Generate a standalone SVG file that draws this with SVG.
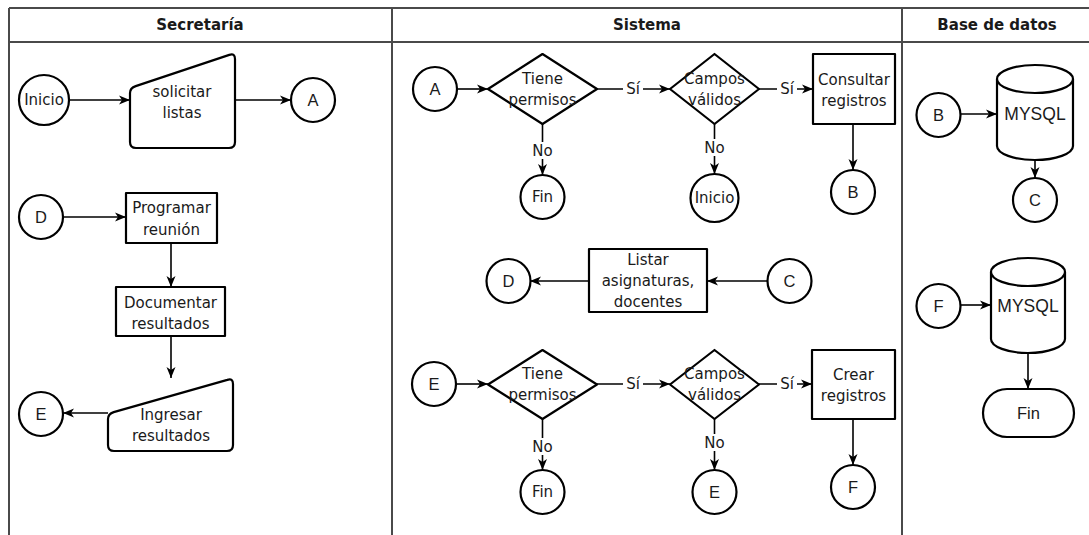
<svg xmlns="http://www.w3.org/2000/svg" width="1089" height="535" viewBox="0 0 1089 535">
<style>
.lane{stroke:#4a4a4a;stroke-width:2;fill:none}
.s{fill:#fff;stroke:#000;stroke-width:2.2;stroke-linejoin:round}
.e{stroke:#000;stroke-width:1.6;fill:none}
.t{font-family:"DejaVu Sans",sans-serif;font-size:15px;fill:#1a1a1a;text-anchor:middle}
.a{font-family:"Liberation Sans",Arial,sans-serif;font-size:16.5px;fill:#1a1a1a;text-anchor:middle}
.m{font-family:"Liberation Sans",Arial,sans-serif;font-size:17.5px;fill:#1a1a1a;text-anchor:middle}
.h{font-family:"DejaVu Sans",sans-serif;font-size:15px;font-weight:bold;fill:#1a1a1a;text-anchor:middle}
.bg{fill:#fff}
</style>
<defs>
<marker id="arr" markerWidth="11" markerHeight="11" refX="11" refY="5.5" orient="auto" markerUnits="userSpaceOnUse">
<path d="M0,1 L11,5.5 L0,10 L3,5.5 Z" fill="#000"/>
</marker>
</defs>
<g id="lanes">
<path class="lane" d="M9,8 H1089 M9,42 H1089 M9,8 V535 M392,8 V535 M902,8 V535"/>
<text class="h" x="200" y="30">Secretaría</text>
<text class="h" x="647" y="30">Sistema</text>
<text class="h" x="997" y="30">Base de datos</text>
</g>
<g id="connectors">
<path class="e" marker-end="url(#arr)" d="M69,100 H130"/>
<path class="e" marker-end="url(#arr)" d="M235,100 H291"/>
<path class="e" marker-end="url(#arr)" d="M63,217 H126"/>
<path class="e" marker-end="url(#arr)" d="M171,243 V287"/>
<path class="e" marker-end="url(#arr)" d="M171,336 V378"/>
<path class="e" marker-end="url(#arr)" d="M108,413 H63"/>
<path class="e" marker-end="url(#arr)" d="M457,89 H488"/>
<path class="e" marker-end="url(#arr)" d="M597,89 H670"/>
<path class="e" marker-end="url(#arr)" d="M759,89 H813"/>
<path class="e" marker-end="url(#arr)" d="M542.5,124 V175"/>
<path class="e" marker-end="url(#arr)" d="M714.5,124 V174"/>
<path class="e" marker-end="url(#arr)" d="M853,124 V170"/>
<path class="e" marker-end="url(#arr)" d="M767,281 H707"/>
<path class="e" marker-end="url(#arr)" d="M589,281 H530"/>
<path class="e" marker-end="url(#arr)" d="M456,384 H488"/>
<path class="e" marker-end="url(#arr)" d="M597,384 H670"/>
<path class="e" marker-end="url(#arr)" d="M759,384 H812"/>
<path class="e" marker-end="url(#arr)" d="M542.5,419 V470"/>
<path class="e" marker-end="url(#arr)" d="M714.5,419 V470"/>
<path class="e" marker-end="url(#arr)" d="M853,419 V465"/>
<path class="e" marker-end="url(#arr)" d="M961,114 H997"/>
<path class="e" marker-end="url(#arr)" d="M1035,160 V178"/>
<path class="e" marker-end="url(#arr)" d="M960,305 H991"/>
<path class="e" marker-end="url(#arr)" d="M1028,353 V389"/>
<rect class="bg" x="623" y="81" width="20" height="17"/><text class="t" x="633" y="94">Sí</text>
<rect class="bg" x="777" y="81" width="20" height="17"/><text class="t" x="787" y="94">Sí</text>
<rect class="bg" x="531" y="142" width="23" height="17"/><text class="t" x="542.5" y="156">No</text>
<rect class="bg" x="703" y="139" width="23" height="17"/><text class="t" x="714.5" y="153">No</text>
<rect class="bg" x="623" y="376" width="20" height="17"/><text class="t" x="633" y="389">Sí</text>
<rect class="bg" x="777" y="376" width="20" height="17"/><text class="t" x="787" y="389">Sí</text>
<rect class="bg" x="531" y="438" width="23" height="17"/><text class="t" x="542.5" y="452">No</text>
<rect class="bg" x="703" y="434" width="23" height="17"/><text class="t" x="714.5" y="448">No</text>
</g>
<g id="inicio1"><circle class="s" cx="44" cy="100" r="25"/><text class="t" x="44" y="105">Inicio</text></g>
<g id="solicitar"><path class="s" d="M130,93 Q130,88 135.7,86.1 L229.3,54.9 Q235,53 235,59 L235,142 Q235,148 229,148 L136,148 Q130,148 130,142 Z"/><text class="t" x="182" y="97">solicitar</text><text class="t" x="182" y="118">listas</text></g>
<g id="a1"><circle class="s" cx="313" cy="100" r="22"/><text class="a" x="313" y="106">A</text></g>
<g id="d1"><circle class="s" cx="41" cy="217" r="22"/><text class="a" x="41" y="223">D</text></g>
<g id="programar"><rect class="s" x="126" y="193" width="91" height="50"/><text class="t" x="171.5" y="213">Programar</text><text class="t" x="171.5" y="235">reunión</text></g>
<g id="documentar"><rect class="s" x="116" y="287" width="109" height="49"/><text class="t" x="170.5" y="308">Documentar</text><text class="t" x="170.5" y="329">resultados</text></g>
<g id="ingresar"><path class="s" d="M108,419 Q108,414 113.7,412.1 L227.3,379.9 Q233,378 233,384 L233,445 Q233,451 227,451 L114,451 Q108,451 108,445 Z"/><text class="t" x="171" y="420">Ingresar</text><text class="t" x="171" y="441">resultados</text></g>
<g id="e1"><circle class="s" cx="41" cy="414" r="22"/><text class="a" x="41" y="420">E</text></g>
<g id="a2"><circle class="s" cx="435" cy="89" r="22"/><text class="a" x="435" y="95">A</text></g>
<g id="permisos1"><path class="s" d="M488,89 L542.5,54 L597,89 L542.5,124 Z"/><text class="t" x="542.5" y="84">Tiene</text><text class="t" x="542.5" y="105">permisos</text></g>
<g id="campos1"><path class="s" d="M670,89 L714.5,54 L759,89 L714.5,124 Z"/><text class="t" x="714.5" y="84">Campos</text><text class="t" x="714.5" y="105">válidos</text></g>
<g id="consultar"><rect class="s" x="813" y="54" width="82" height="70"/><text class="t" x="854" y="85">Consultar</text><text class="t" x="854" y="106">registros</text></g>
<g id="fin1"><circle class="s" cx="542.5" cy="197" r="22"/><text class="t" x="542.5" y="202">Fin</text></g>
<g id="inicio2"><circle class="s" cx="714.5" cy="198" r="24"/><text class="t" x="714.5" y="203">Inicio</text></g>
<g id="b1"><circle class="s" cx="853" cy="192" r="22"/><text class="a" x="853" y="198">B</text></g>
<g id="d2"><circle class="s" cx="508.5" cy="281" r="22"/><text class="a" x="508.5" y="287">D</text></g>
<g id="listar"><rect class="s" x="589" y="249" width="118" height="63"/><text class="t" x="648" y="265">Listar</text><text class="t" x="648" y="286">asignaturas,</text><text class="t" x="648" y="307">docentes</text></g>
<g id="c1"><circle class="s" cx="789.5" cy="281" r="22"/><text class="a" x="789.5" y="287">C</text></g>
<g id="e2"><circle class="s" cx="434" cy="384" r="22"/><text class="a" x="434" y="390">E</text></g>
<g id="permisos2"><path class="s" d="M488,384.5 L542.5,350 L597,384.5 L542.5,419 Z"/><text class="t" x="542.5" y="379">Tiene</text><text class="t" x="542.5" y="400">permisos</text></g>
<g id="campos2"><path class="s" d="M670,384.5 L714.5,350 L759,384.5 L714.5,419 Z"/><text class="t" x="714.5" y="379">Campos</text><text class="t" x="714.5" y="400">válidos</text></g>
<g id="crear"><rect class="s" x="812" y="350" width="83" height="69"/><text class="t" x="853.5" y="380">Crear</text><text class="t" x="853.5" y="401">registros</text></g>
<g id="fin2"><circle class="s" cx="542.5" cy="492" r="22"/><text class="t" x="542.5" y="497">Fin</text></g>
<g id="e3"><circle class="s" cx="714.5" cy="492" r="22"/><text class="a" x="714.5" y="498">E</text></g>
<g id="f1"><circle class="s" cx="853" cy="487" r="22"/><text class="a" x="853" y="493">F</text></g>
<g id="b2"><circle class="s" cx="938.5" cy="115" r="22"/><text class="a" x="938.5" y="121">B</text></g>
<g id="mysql1"><path class="s" d="M997,79 A38,14 0 0 1 1073,79 L1073,146 A38,14 0 0 1 997,146 Z"/><path class="s" fill="none" d="M997,79 A38,14 0 0 0 1073,79"/><text class="m" x="1035" y="120">MYSQL</text></g>
<g id="c2"><circle class="s" cx="1035" cy="200" r="22"/><text class="a" x="1035" y="206">C</text></g>
<g id="f2"><circle class="s" cx="938.5" cy="306" r="22"/><text class="a" x="938.5" y="312">F</text></g>
<g id="mysql2"><path class="s" d="M991,272 A37,14 0 0 1 1065,272 L1065,339 A37,14 0 0 1 991,339 Z"/><path class="s" fill="none" d="M991,272 A37,14 0 0 0 1065,272"/><text class="m" x="1028" y="312">MYSQL</text></g>
<g id="fin3"><rect class="s" x="983" y="389" width="91" height="48" rx="24" ry="24"/><text class="a" x="1028.5" y="419">Fin</text></g>
</svg>
